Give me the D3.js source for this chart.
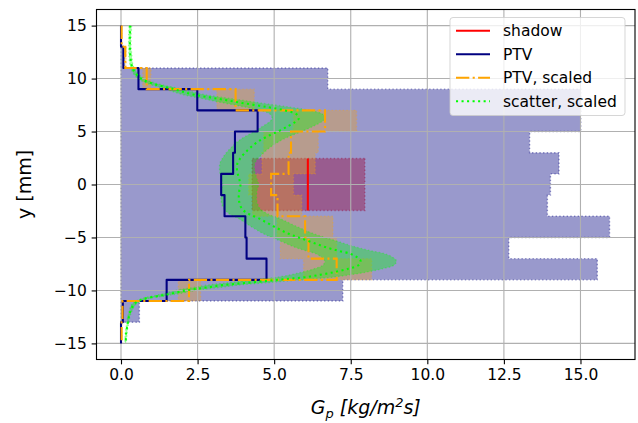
<!DOCTYPE html>
<html>
<head>
<meta charset="utf-8">
<script src="https://cdn.jsdelivr.net/npm/d3@7"></script>
<style>
  body { margin: 0; background: #fff; }
  svg { display: block; }
  text { font-family: "DejaVu Sans", sans-serif; fill: #000; }
</style>
</head>
<body>
<svg id="chart" width="638" height="423"></svg>
<script>
// ---- data -------------------------------------------------------------
// 2 mm bins, edges listed from top (15 mm) to bottom (-15 mm)
const binEdges = [15, 13, 11, 9, 7, 5, 3, 1, -1, -3, -5, -7, -9, -11, -13, -15];

// PTV mass flux per bin [kg/m²s]
const ptvValues = [0.00, 0.08, 0.57, 2.49, 4.46, 3.72, 3.66, 3.27, 3.38, 4.06, 4.10, 4.75, 1.49, 0.06, 0.00];
const ptvBandLow = [0, 0, 0, 0, 0, 0, 0, 0, 0, 0, 0, 0, 0, 0, 0];
const ptvBandHigh = [0.00, 0.08, 6.75, 15.01, 15.01, 13.34, 14.30, 14.02, 13.92, 15.95, 12.66, 15.55, 7.24, 0.60, 0.00];

// PTV, scaled
const ptvScaledValues = [0.02, 0.14, 0.84, 3.74, 6.66, 5.55, 5.47, 4.90, 5.11, 6.01, 6.12, 7.04, 2.22, 0.05, 0.02];
const ptvScaledLow = [0.02, 0.12, 0.71, 3.13, 5.63, 4.66, 4.60, 4.17, 4.30, 5.10, 5.20, 5.96, 1.87, 0.04, 0.02];
const ptvScaledHigh = [0.03, 0.17, 0.98, 4.35, 7.69, 6.44, 6.34, 5.63, 5.90, 6.92, 7.04, 8.18, 2.60, 0.07, 0.03];

// shadow measurement
const shadowY = [2.45, -2.45];
const shadowValue = [6.10, 6.10];
const shadowLow = [4.28, 4.28];
const shadowHigh = [7.96, 7.96];

// scatter profile, scaled
const scatterY = [15, 14, 13, 12, 11.2, 10.6, 10, 9.6, 9, 8.5, 8.1, 7.7, 7.3, 7, 6.6, 6.2,
  5.9, 5.5, 5, 4.5, 4, 3.5, 3, 2.5, 2, 1.3, 0.6, 0, -0.6, -1.5, -2.3, -2.8,
  -3.2, -3.7, -4.2, -4.65, -5, -5.45, -5.9, -6.25, -6.55, -6.9, -7.2, -7.6, -7.95, -8.25, -8.5, -8.75,
  -8.9, -9.05, -9.2, -9.35, -9.5, -9.7, -9.85, -10, -10.3, -10.5, -10.8, -11.25, -12.2, -13.1, -14, -15];
const scatterMid = [0.30, 0.29, 0.29, 0.31, 0.35, 0.45, 0.65, 0.95, 1.72, 2.35, 3.15, 3.95, 4.80, 5.35, 5.74, 5.80,
  5.69, 5.45, 5.12, 4.75, 4.45, 4.23, 4.05, 3.90, 3.80, 3.79, 3.85, 3.90, 3.86, 3.85, 3.95, 4.18,
  4.50, 4.82, 5.15, 5.47, 5.80, 6.23, 6.66, 7.09, 7.50, 7.72, 7.82, 7.76, 7.42, 6.99, 6.55, 6.01,
  5.47, 4.93, 4.39, 3.85, 3.31, 2.85, 2.45, 2.12, 1.65, 1.28, 0.75, 0.44, 0.28, 0.22, 0.17, 0.15];
const scatterLow = [0.26, 0.25, 0.25, 0.26, 0.30, 0.38, 0.55, 0.81, 1.46, 2.00, 2.68, 3.36, 4.08, 4.55, 4.88, 4.93,
  4.84, 4.63, 4.35, 4.04, 3.78, 3.60, 3.44, 3.32, 3.23, 3.22, 3.27, 3.32, 3.28, 3.27, 3.36, 3.55,
  3.83, 4.10, 4.38, 4.65, 4.93, 5.30, 5.66, 6.03, 6.38, 6.56, 6.65, 6.60, 6.31, 5.94, 5.57, 5.11,
  4.65, 4.19, 3.73, 3.27, 2.81, 2.42, 2.08, 1.80, 1.40, 1.09, 0.64, 0.37, 0.24, 0.19, 0.14, 0.13];
const scatterHigh = [0.35, 0.33, 0.33, 0.36, 0.40, 0.52, 0.75, 1.09, 1.98, 2.70, 3.62, 4.54, 5.52, 6.15, 6.60, 6.67,
  6.54, 6.27, 5.89, 5.46, 5.12, 4.86, 4.66, 4.49, 4.37, 4.36, 4.43, 4.49, 4.44, 4.43, 4.54, 4.81,
  5.18, 5.54, 5.92, 6.29, 6.67, 7.16, 7.66, 8.15, 8.63, 8.88, 8.99, 8.92, 8.53, 8.04, 7.53, 6.91,
  6.29, 5.67, 5.05, 4.43, 3.81, 3.28, 2.82, 2.44, 1.90, 1.47, 0.86, 0.51, 0.32, 0.25, 0.20, 0.17];

// axes
const xTicks = [0, 2.5, 5, 7.5, 10, 12.5, 15];
const yTicks = [-15, -10, -5, 0, 5, 10, 15];
const legendLabels = ["shadow", "PTV", "PTV, scaled", "scatter, scaled"];

// ---- layout -----------------------------------------------------------
const svg = d3.select("#chart");
const plot = { left: 96.5, right: 635, top: 9.5, bottom: 359.5 };
const x = d3.scaleLinear().domain([-0.80, 16.78]).range([plot.left, plot.right]);
const y = d3.scaleLinear().domain([-16.52, 16.52]).range([plot.bottom, plot.top]);

const COLORS = { shadow: "#ff0000", ptv: "#000080", scaled: "#ffa500", scatter: "#00ff00" };
const px = v => v * 100 / 72;           // points -> pixels
const LW = px(1.5);
const DASHDOT = [6.4, 1.6, 1.0, 1.6].map(d => px(d * 1.5)).join(",");
const DOTTED = [1, 1.65].map(d => px(d * 1.5)).join(",");
const EDGE_DOT = [1, 1.65].map(d => px(d)).join(",");

svg.append("clipPath").attr("id", "clip")
  .append("rect").attr("x", plot.left).attr("y", plot.top)
  .attr("width", plot.right - plot.left).attr("height", plot.bottom - plot.top);
const g = svg.append("g").attr("clip-path", "url(#clip)");

// stepped rows: each bin contributes its top and bottom edge
function stepRows(lo, hi) {
  return lo.flatMap((l, i) => [
    { y: binEdges[i], lo: l, hi: hi[i] },
    { y: binEdges[i + 1], lo: l, hi: hi[i] }
  ]);
}
function stairPoints(vals) {
  return vals.flatMap((v, i) => [[v, binEdges[i]], [v, binEdges[i + 1]]]);
}

const bandArea = d3.area().y(d => y(d.y)).x0(d => x(d.lo)).x1(d => x(d.hi));
const smoothBand = d3.area().y(d => y(d.y)).x0(d => x(d.lo)).x1(d => x(d.hi))
  .curve(d3.curveCatmullRom.alpha(0.5));

function drawBand(rows, color, gen, alpha) {
  g.append("path").datum(rows).attr("d", gen)
    .attr("fill", color).attr("fill-opacity", alpha)
    .attr("stroke", color).attr("stroke-opacity", alpha)
    .attr("stroke-width", px(1)).attr("stroke-dasharray", EDGE_DOT);
}

// bands (drawn first, translucent)
drawBand(shadowY.map((v, i) => ({ y: v, lo: shadowLow[i], hi: shadowHigh[i] })), COLORS.shadow, bandArea, 0.4);
drawBand(stepRows(ptvBandLow, ptvBandHigh), COLORS.ptv, bandArea, 0.4);
drawBand(stepRows(ptvScaledLow, ptvScaledHigh), COLORS.scaled, bandArea, 0.3);
drawBand(scatterY.map((v, i) => ({ y: v, lo: scatterLow[i], hi: scatterHigh[i] })), COLORS.scatter, smoothBand, 0.35);

// grid
const grid = svg.append("g");
grid.selectAll(".gx").data(xTicks).join("line")
  .attr("x1", d => x(d)).attr("x2", d => x(d))
  .attr("y1", plot.top).attr("y2", plot.bottom)
  .attr("stroke", "#b0b0b0").attr("stroke-width", px(0.8));
grid.selectAll(".gy").data(yTicks).join("line")
  .attr("y1", d => y(d)).attr("y2", d => y(d))
  .attr("x1", plot.left).attr("x2", plot.right)
  .attr("stroke", "#b0b0b0").attr("stroke-width", px(0.8));

// lines
const lineGen = d3.line().x(d => x(d[0])).y(d => y(d[1]));
const g2 = svg.append("g").attr("clip-path", "url(#clip)");
g2.append("path").datum(shadowY.map((v, i) => [shadowValue[i], v])).attr("d", lineGen)
  .attr("fill", "none").attr("stroke", COLORS.shadow).attr("stroke-width", LW);
g2.append("path").datum(stairPoints(ptvValues)).attr("d", lineGen)
  .attr("fill", "none").attr("stroke", COLORS.ptv).attr("stroke-width", LW)
  .attr("stroke-linejoin", "round");
g2.append("path").datum(stairPoints(ptvScaledValues)).attr("d", lineGen)
  .attr("fill", "none").attr("stroke", COLORS.scaled).attr("stroke-width", LW)
  .attr("stroke-dasharray", DASHDOT);
g2.append("path").datum(scatterY.map((v, i) => [scatterMid[i], v]))
  .attr("d", lineGen.curve(d3.curveCatmullRom.alpha(0.5)))
  .attr("fill", "none").attr("stroke", COLORS.scatter).attr("stroke-width", LW)
  .attr("stroke-dasharray", DOTTED);

// axes
const fmtY = d => (d < 0 ? "\u2212" + Math.abs(d) : String(d));
const xAxis = d3.axisBottom(x).tickValues(xTicks).tickFormat(d3.format(".1f"))
  .tickSize(px(3.5)).tickPadding(px(3.5));
const yAxis = d3.axisLeft(y).tickValues(yTicks).tickFormat(fmtY)
  .tickSize(px(3.5)).tickPadding(px(3.5));
const gx = svg.append("g").attr("transform", `translate(0,${plot.bottom})`).call(xAxis);
const gy = svg.append("g").attr("transform", `translate(${plot.left},0)`).call(yAxis);
[gx, gy].forEach(a => {
  a.select(".domain").remove();
  a.selectAll(".tick line").attr("stroke", "#000").attr("stroke-width", px(0.8));
  a.selectAll(".tick text").attr("font-size", 15.5).attr("font-family", "DejaVu Sans").attr("fill", "#000");
});

// frame
svg.append("rect").attr("x", plot.left).attr("y", plot.top)
  .attr("width", plot.right - plot.left).attr("height", plot.bottom - plot.top)
  .attr("fill", "none").attr("stroke", "#000").attr("stroke-width", px(0.8));

// axis labels
const xl = svg.append("text").attr("x", (plot.left + plot.right) / 2).attr("y", 414)
  .attr("text-anchor", "middle").attr("font-size", 19).attr("font-style", "italic");
xl.append("tspan").text("G");
xl.append("tspan").attr("font-size", 13).attr("dy", 4).text("p");
xl.append("tspan").attr("dy", -4).text(" [kg/m");
xl.append("tspan").attr("font-size", 13).attr("dy", -7).text("2");
xl.append("tspan").attr("dy", 7).text("s]");

svg.append("text").attr("transform", `translate(31,${y(0)}) rotate(-90)`)
  .attr("text-anchor", "middle").attr("font-size", 19).text("y [mm]");

// legend
const lg = svg.append("g");
lg.append("rect").attr("x", 450).attr("y", 17.5).attr("width", 175).attr("height", 98)
  .attr("rx", 3).attr("fill", "#fff").attr("fill-opacity", 0.8)
  .attr("stroke", "#cccccc").attr("stroke-opacity", 0.8).attr("stroke-width", 1);
const legendStyles = [
  { color: COLORS.shadow, dash: null },
  { color: COLORS.ptv, dash: null },
  { color: COLORS.scaled, dash: DASHDOT },
  { color: COLORS.scatter, dash: DOTTED }
];
legendLabels.forEach((lab, i) => {
  const cy = 30.7 + i * 23.5;
  lg.append("line").attr("x1", 456).attr("x2", 490).attr("y1", cy).attr("y2", cy)
    .attr("stroke", legendStyles[i].color).attr("stroke-width", LW)
    .attr("stroke-dasharray", legendStyles[i].dash);
  lg.append("text").attr("x", 503).attr("y", cy + 5.5).attr("font-size", 15.5).text(lab);
});
</script>
</body>
</html>
